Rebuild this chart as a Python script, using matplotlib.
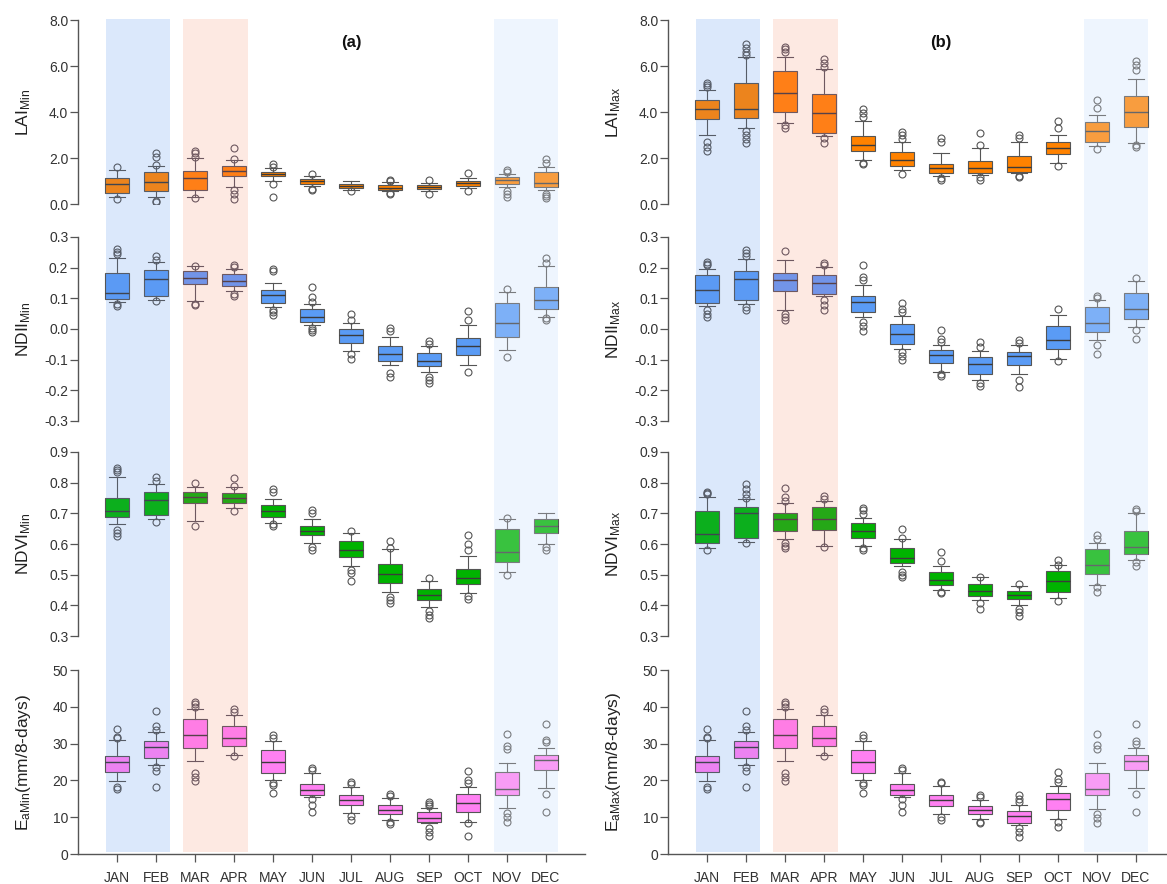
import matplotlib
matplotlib.use("Agg")
import matplotlib.pyplot as plt
from matplotlib.ticker import FormatStrFormatter

plt.rcParams['font.family'] = ['Liberation Sans', 'DejaVu Sans']
plt.rcParams['mathtext.fontset'] = 'custom'
plt.rcParams['mathtext.rm'] = 'Liberation Sans'
plt.rcParams['mathtext.it'] = 'Liberation Sans:italic'
plt.rcParams['mathtext.bf'] = 'Liberation Sans:bold'

months = ['JAN', 'FEB', 'MAR', 'APR', 'MAY', 'JUN', 'JUL', 'AUG', 'SEP', 'OCT', 'NOV', 'DEC']

# each box: (lower whisker, q1, median, q3, upper whisker)
lai_min_box = [(0.3, 0.5, 0.85, 1.15, 1.5), (0.3, 0.58, 0.97, 1.38, 1.65), (0.3, 0.6, 1.12, 1.45, 2.0),
               (0.75, 1.2, 1.45, 1.65, 1.9), (1.0, 1.2, 1.3, 1.38, 1.55), (0.8, 0.88, 0.98, 1.07, 1.2),
               (0.62, 0.7, 0.79, 0.85, 1.0), (0.55, 0.61, 0.71, 0.82, 0.95), (0.58, 0.67, 0.74, 0.81, 0.93),
               (0.68, 0.8, 0.9, 1.0, 1.12), (0.73, 0.87, 1.03, 1.19, 1.31), (0.6, 0.73, 0.92, 1.38, 1.63)]
lai_min_out = [[1.62, 0.2], [2.2, 2.05, 1.7, 0.15, 0.1], [2.3, 2.22, 2.05, 0.25], [2.45, 1.95, 0.6, 0.45, 0.2],
               [1.72, 1.62, 0.85, 0.3], [1.3, 0.65, 0.6], [0.58], [1.05, 0.98, 0.5, 0.45], [1.05, 0.43],
               [1.33, 0.55], [1.5, 1.38, 0.55, 0.45, 0.32], [1.95, 1.8, 0.45, 0.35, 0.25]]

ndii_min_box = [(0.088, 0.097, 0.118, 0.183, 0.23), (0.096, 0.107, 0.164, 0.191, 0.218),
                (0.09, 0.146, 0.167, 0.188, 0.205), (0.124, 0.14, 0.155, 0.18, 0.197),
                (0.072, 0.085, 0.11, 0.128, 0.15), (0.012, 0.023, 0.04, 0.064, 0.083),
                (-0.073, -0.046, -0.018, -0.001, 0.021), (-0.118, -0.104, -0.08, -0.057, -0.026),
                (-0.14, -0.122, -0.104, -0.078, -0.055), (-0.118, -0.086, -0.056, -0.03, 0.012),
                (-0.07, -0.027, 0.019, 0.084, 0.12), (0.04, 0.065, 0.094, 0.136, 0.205)]
ndii_min_out = [[0.262, 0.252, 0.245, 0.08, 0.074], [0.237, 0.226, 0.09], [0.207, 0.083, 0.077],
                [0.21, 0.202, 0.115, 0.107], [0.197, 0.19, 0.063, 0.055, 0.047],
                [0.137, 0.104, 0.088, 0.003, -0.004, -0.01], [0.05, 0.028, -0.08, -0.097],
                [0.003, -0.007, -0.143, -0.157], [-0.04, -0.048, -0.155, -0.165, -0.175],
                [0.06, 0.03, -0.14], [0.13, -0.09], [0.23, 0.215, 0.035, 0.03]]

ndvi_min_box = [(0.664, 0.688, 0.708, 0.75, 0.817), (0.68, 0.695, 0.743, 0.768, 0.796),
                (0.675, 0.735, 0.753, 0.77, 0.785), (0.719, 0.733, 0.75, 0.765, 0.785),
                (0.669, 0.688, 0.708, 0.728, 0.746), (0.602, 0.628, 0.644, 0.659, 0.683),
                (0.529, 0.557, 0.582, 0.609, 0.637), (0.443, 0.474, 0.503, 0.536, 0.585),
                (0.395, 0.418, 0.435, 0.452, 0.48), (0.44, 0.47, 0.49, 0.52, 0.56),
                (0.51, 0.54, 0.575, 0.65, 0.68), (0.6, 0.635, 0.66, 0.68, 0.7)]
ndvi_min_out = [[0.847, 0.84, 0.834, 0.647, 0.637, 0.626], [0.818, 0.807, 0.672], [0.798, 0.659],
                [0.815, 0.788, 0.708], [0.779, 0.77, 0.664, 0.659], [0.71, 0.7, 0.59, 0.582],
                [0.642, 0.516, 0.505, 0.478], [0.609, 0.587, 0.428, 0.417, 0.406], [0.49, 0.38, 0.37, 0.36],
                [0.63, 0.6, 0.58, 0.43, 0.42], [0.685, 0.5], [0.59, 0.58]]

ea_min_box = [(19.9, 22.2, 25.0, 26.6, 31.1), (24.1, 26.1, 29.1, 30.6, 33.2), (25.3, 28.8, 32.4, 36.6, 39.5),
              (27.0, 29.3, 31.5, 34.7, 37.7), (20.1, 21.9, 25.0, 28.2, 30.6), (15.6, 15.9, 17.4, 19.0, 21.9),
              (11.1, 13.2, 14.7, 15.9, 18.3), (9.3, 10.8, 12.0, 13.3, 15.1), (8.4, 8.6, 9.9, 11.3, 12.4),
              (8.7, 11.3, 13.8, 16.2, 18.3), (12.4, 16.0, 17.7, 22.2, 24.8), (17.8, 22.8, 25.5, 27.0, 28.9)]
ea_min_out = [[34.1, 31.8, 31.4, 18.3, 17.7], [38.8, 34.7, 33.6, 23.7, 22.5, 18.3],
              [41.4, 40.8, 39.9, 21.9, 21.0, 19.9], [39.5, 38.7, 26.6], [32.3, 31.5, 19.2, 18.7, 16.5],
              [23.4, 22.8, 14.9, 13.2, 11.5], [19.6, 19.0, 10.2, 9.3], [16.3, 15.8, 8.6, 8.1],
              [14.2, 13.6, 13.1, 7.0, 5.9, 5.0], [22.5, 20.1, 19.2, 8.3, 5.0],
              [32.7, 29.3, 28.5, 11.1, 10.0, 8.6], [35.4, 31.1, 30.5, 16.3, 11.4]]

lai_max_box = [(3.0, 3.7, 4.12, 4.52, 4.96), (3.32, 3.72, 4.12, 5.28, 6.38), (3.51, 3.99, 4.84, 5.78, 6.41),
               (2.96, 3.07, 3.94, 4.78, 5.87), (1.91, 2.3, 2.57, 2.97, 3.61), (1.48, 1.67, 1.91, 2.25, 2.68),
               (1.22, 1.36, 1.55, 1.72, 2.2), (1.26, 1.36, 1.55, 1.88, 2.42), (1.33, 1.38, 1.62, 2.1, 2.68),
               (1.77, 2.17, 2.42, 2.71, 3.0), (2.52, 2.71, 3.17, 3.58, 3.87), (2.67, 3.33, 3.99, 4.71, 5.42)]
lai_max_out = [[5.28, 5.17, 5.07, 2.71, 2.49, 2.32], [6.94, 6.77, 6.62, 6.48, 3.17, 3.0, 2.81, 2.67],
               [6.84, 6.72, 6.62, 3.43, 3.29], [6.29, 6.12, 5.97, 2.86, 2.67], [4.13, 3.94, 3.8, 1.8, 1.72],
               [3.14, 3.0, 2.81, 1.29], [2.86, 2.71, 1.12, 1.04], [3.1, 2.57, 1.19, 1.04],
               [3.0, 2.86, 1.23, 1.16], [3.62, 3.29, 1.67], [4.52, 4.16, 2.39], [6.22, 6.04, 5.83, 2.55, 2.49]]

ndii_max_box = [(0.074, 0.085, 0.126, 0.175, 0.197), (0.083, 0.096, 0.162, 0.189, 0.229),
                (0.061, 0.123, 0.161, 0.184, 0.224), (0.107, 0.115, 0.15, 0.175, 0.202),
                (0.039, 0.055, 0.088, 0.107, 0.142), (-0.064, -0.048, -0.015, 0.015, 0.041),
                (-0.14, -0.111, -0.086, -0.067, -0.051), (-0.165, -0.146, -0.115, -0.091, -0.072),
                (-0.148, -0.116, -0.089, -0.075, -0.053), (-0.097, -0.066, -0.035, 0.009, 0.045),
                (-0.037, -0.01, 0.02, 0.072, 0.096), (0.007, 0.034, 0.066, 0.117, 0.157)]
ndii_max_out = [[0.218, 0.213, 0.208, 0.061, 0.05, 0.039], [0.259, 0.248, 0.237, 0.072, 0.063],
                [0.254, 0.05, 0.039, 0.028], [0.215, 0.208, 0.093, 0.077, 0.061],
                [0.208, 0.17, 0.159, 0.023, 0.009, -0.008], [0.085, 0.066, 0.055, -0.075, -0.089, -0.102],
                [-0.004, -0.032, -0.042, -0.146, -0.154], [-0.042, -0.059, -0.176, -0.186],
                [-0.037, -0.045, -0.167, -0.189], [0.066, -0.105], [0.107, 0.101, -0.052, -0.08],
                [0.166, -0.004, -0.031]]

ndvi_max_box = [(0.587, 0.602, 0.633, 0.708, 0.752), (0.607, 0.618, 0.7, 0.722, 0.746),
                (0.615, 0.642, 0.68, 0.702, 0.733), (0.593, 0.645, 0.683, 0.722, 0.739),
                (0.593, 0.618, 0.644, 0.67, 0.686), (0.527, 0.538, 0.554, 0.587, 0.615),
                (0.45, 0.467, 0.483, 0.51, 0.527), (0.417, 0.432, 0.447, 0.47, 0.491),
                (0.402, 0.421, 0.434, 0.448, 0.462), (0.424, 0.443, 0.478, 0.513, 0.53),
                (0.467, 0.502, 0.53, 0.584, 0.604), (0.549, 0.566, 0.591, 0.642, 0.7)]
ndvi_max_out = [[0.77, 0.766, 0.763, 0.582], [0.796, 0.779, 0.763, 0.75, 0.602],
                [0.781, 0.752, 0.741, 0.604, 0.595, 0.587], [0.755, 0.746, 0.59],
                [0.719, 0.71, 0.697, 0.587, 0.582], [0.648, 0.62, 0.51, 0.5, 0.494],
                [0.573, 0.543, 0.445, 0.439], [0.494, 0.406, 0.387], [0.47, 0.389, 0.378, 0.366],
                [0.549, 0.533, 0.413], [0.628, 0.615, 0.461, 0.443], [0.713, 0.708, 0.54, 0.529]]

ea_max_box = [(19.9, 22.2, 25.0, 26.6, 31.1), (24.1, 26.1, 29.1, 30.6, 33.2), (25.3, 28.8, 32.4, 36.6, 39.5),
              (27.0, 29.3, 31.5, 34.7, 37.7), (20.1, 21.9, 25.0, 28.2, 30.6), (15.6, 15.9, 17.4, 19.1, 21.9),
              (11.0, 13.0, 14.6, 15.9, 18.4), (9.6, 10.8, 11.9, 13.1, 14.8), (7.8, 8.5, 10.3, 11.6, 13.2),
              (9.6, 11.9, 15.0, 16.6, 18.4), (12.3, 15.9, 17.6, 22.1, 24.8), (17.8, 22.7, 25.4, 26.9, 28.8)]
ea_max_out = [[34.1, 31.8, 31.4, 18.3, 17.7], [38.8, 34.7, 33.6, 23.7, 22.5, 18.3],
              [41.4, 40.8, 39.9, 21.9, 21.0, 19.9], [39.5, 38.7, 26.6], [32.3, 31.5, 19.2, 18.7, 16.5],
              [23.4, 22.8, 14.9, 13.2, 11.5], [19.5, 19.2, 10.1, 9.2], [15.9, 15.4, 8.7, 8.3],
              [15.9, 15.0, 14.1, 7.0, 6.1, 4.7], [22.2, 20.3, 19.5, 8.7, 7.4],
              [32.7, 29.6, 28.4, 11.0, 9.9, 8.5], [35.3, 30.8, 29.9, 16.3, 11.4]]

# shaded seasons: (start, end, colour behind the boxes, tint over the boxes, tint alpha)
seasons = [(0.72, 2.37, '#ECF4FD', '#6496F0', 0.12),
           (2.70, 4.35, '#FDFFEE', '#FF6EA0', 0.15),
           (10.66, 12.32, '#F1F7FE', '#E6F0FF', 0.25)]

orange = '#FF8200'
blue = '#5A9BF5'
green = '#00B300'
pink = '#FF80F2'
edge = '#555555'


def draw_panel(ax, box, out, color, lims, ticks, fmt, label):
    stats = []
    for (lo, q1, med, q3, hi), fl in zip(box, out):
        stats.append(dict(whislo=lo, q1=q1, med=med, q3=q3, whishi=hi, fliers=fl))
    ax.bxp(stats, positions=range(1, 13), widths=0.62, capwidths=0.4,
           patch_artist=True, manage_ticks=False,
           boxprops=dict(facecolor=color, edgecolor=edge, linewidth=0.8),
           medianprops=dict(color='#3a3a3a', linewidth=1.0),
           whiskerprops=dict(color=edge, linewidth=0.8),
           capprops=dict(color=edge, linewidth=0.8),
           flierprops=dict(marker='o', markerfacecolor='none', markeredgecolor=edge,
                           markersize=5, markeredgewidth=0.8))
    ax.set_xlim(0, 13)
    ax.set_ylim(lims)
    ax.set_yticks(ticks)
    ax.yaxis.set_major_formatter(FormatStrFormatter(fmt))
    ax.patch.set_alpha(0)
    for s in ['top', 'right', 'bottom']:
        ax.spines[s].set_visible(False)
    ax.spines['left'].set_color(edge)
    ax.spines['left'].set_linewidth(1.0)
    ax.tick_params(axis='y', direction='out', length=5.5, width=0.9, color=edge,
                   labelsize=10, labelcolor='#333333', pad=1.5)
    ax.tick_params(axis='x', bottom=False, labelbottom=False)
    ax.text(-0.107, 0.5, label, transform=ax.transAxes, rotation=90,
            ha='center', va='center', fontsize=12.5, color='#222222')


fig = plt.figure(figsize=(11.67, 8.84), dpi=100)
W, H = 1167, 884
col_left = [78, 668]
col_w = 507 / W
row_bottom = [204, 421, 636, 854]
row_h = 184 / H
band_rect = (1 - 852 / H, (852 - 19) / H)

columns = [
    [(lai_min_box, lai_min_out, orange, (0, 8), [0, 2, 4, 6, 8], '%.1f', r'LAI$_{\mathrm{Min}}$'),
     (ndii_min_box, ndii_min_out, blue, (-0.3, 0.3), [-0.3, -0.2, -0.1, 0, 0.1, 0.2, 0.3], '%.1f',
      r'NDII$_{\mathrm{Min}}$'),
     (ndvi_min_box, ndvi_min_out, green, (0.3, 0.9), [0.3, 0.4, 0.5, 0.6, 0.7, 0.8, 0.9], '%.1f',
      r'NDVI$_{\mathrm{Min}}$'),
     (ea_min_box, ea_min_out, pink, (0, 50), [0, 10, 20, 30, 40, 50], '%d',
      r'E$_{\mathrm{aMin}}$(mm/8-days)')],
    [(lai_max_box, lai_max_out, orange, (0, 8), [0, 2, 4, 6, 8], '%.1f', r'LAI$_{\mathrm{Max}}$'),
     (ndii_max_box, ndii_max_out, blue, (-0.3, 0.3), [-0.3, -0.2, -0.1, 0, 0.1, 0.2, 0.3], '%.1f',
      r'NDII$_{\mathrm{Max}}$'),
     (ndvi_max_box, ndvi_max_out, green, (0.3, 0.9), [0.3, 0.4, 0.5, 0.6, 0.7, 0.8, 0.9], '%.1f',
      r'NDVI$_{\mathrm{Max}}$'),
     (ea_max_box, ea_max_out, pink, (0, 50), [0, 10, 20, 30, 40, 50], '%d',
      r'E$_{\mathrm{aMax}}$(mm/8-days)')],
]
letters = ['(a)', '(b)']

for c, panels in enumerate(columns):
    x0 = col_left[c] / W
    # season bands behind the whole column
    bg = fig.add_axes([x0, band_rect[0], col_w, band_rect[1]])
    bg.set_xlim(0, 13)
    bg.set_ylim(0, 1)
    bg.axis('off')
    for start, end, under, tint, a in seasons:
        bg.axvspan(start, end, color=under, lw=0)

    for r, (box, out, color, lims, ticks, fmt, label) in enumerate(panels):
        ax = fig.add_axes([x0, 1 - row_bottom[r] / H, col_w, row_h])
        draw_panel(ax, box, out, color, lims, ticks, fmt, label)
        if r == 0:
            ax.text(7, 7.0, letters[c], ha='center', va='center', fontsize=12,
                    fontweight='bold', color='#111111')
        if r == 3:
            ax.spines['bottom'].set_visible(True)
            ax.spines['bottom'].set_color(edge)
            ax.spines['bottom'].set_linewidth(1.0)
            ax.set_xticks(range(1, 13))
            ax.set_xticklabels(months)
            ax.tick_params(axis='x', bottom=True, labelbottom=True, direction='out', length=5.5,
                           width=0.9, color=edge, labelsize=10, labelcolor='#333333', pad=6.5)

    # light tint laid over the boxes inside the bands
    ov = fig.add_axes([x0, band_rect[0], col_w, band_rect[1]])
    ov.set_xlim(0, 13)
    ov.set_ylim(0, 1)
    ov.axis('off')
    for start, end, under, tint, a in seasons:
        ov.axvspan(start, end, color=tint, alpha=a, lw=0)

fig.savefig('out.png', dpi=100)
